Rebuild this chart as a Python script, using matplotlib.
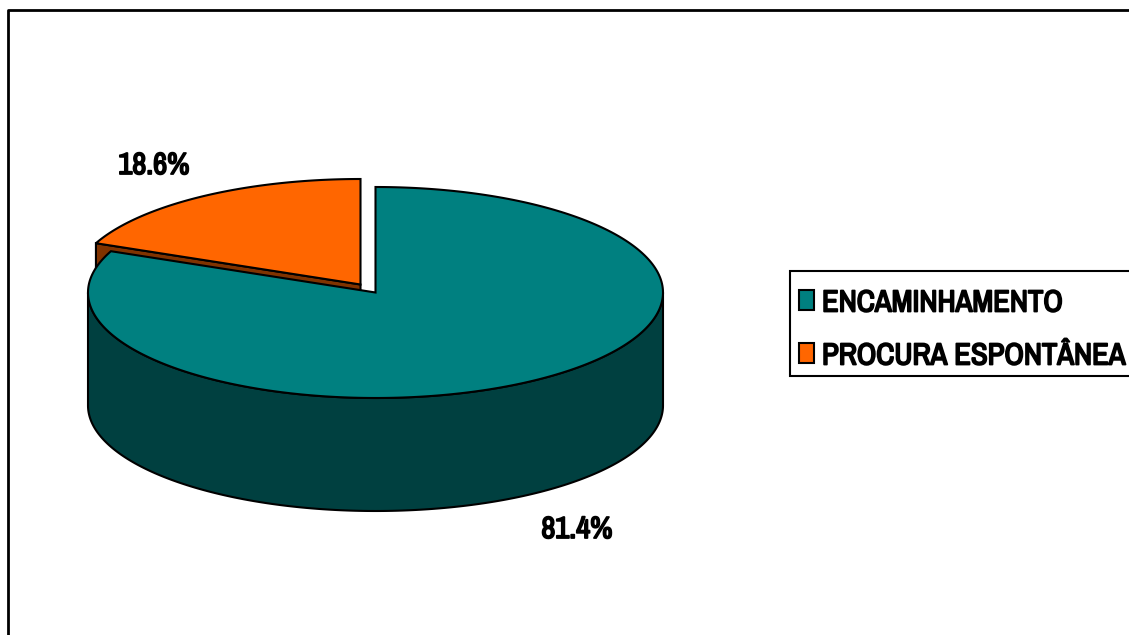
import numpy as np
import matplotlib
matplotlib.use("Agg")
import matplotlib.pyplot as plt
import matplotlib.patheffects as pe
from matplotlib.patches import Polygon, Rectangle

labels = ["ENCAMINHAMENTO", "PROCURA ESPONTÂNEA"]
values = [81.4, 18.6]
top_colors = ["#008080", "#FF6600"]
side_colors = ["#004040", "#803300"]

plt.rcParams['font.family'] = ['Archivo Narrow', 'Liberation Sans', 'DejaVu Sans']

# ellipse of the teal slice, in pixels
cx, cy = 375.5, 292.5
rx, ry = 287.5, 105.5
depth = 113
# how far the orange slice is pulled out
dx, dy = -15, -8
lw = 1.5
font_size = 22
# the narrow font only comes in regular weight, thicken it with a stroke
heavy = [pe.withStroke(linewidth=1.3, foreground="black")]


def rim(a0, a1, ox=0, oy=0):
    t = np.linspace(a0, a1, 300)
    return np.column_stack((cx + ox + rx * np.sin(t), cy + oy - ry * np.cos(t)))


fig = plt.figure(figsize=(11.29, 6.35), dpi=100)
ax = fig.add_axes([0, 0, 1, 1])
ax.set_xlim(0, 1129)
ax.set_ylim(635, 0)
ax.axis("off")

# outer frame, cut by the right and bottom of the image
ax.plot([8, 8, 1135], [640, 10, 10], color="black", lw=2, solid_capstyle="butt")

split = 2 * np.pi * values[0] / sum(values)

# orange slice: side wall first, teal covers most of it
tip = np.array([cx + dx + rx * np.sin(split), cy + dy - ry * np.cos(split)])
apex = np.array([cx + dx, cy + dy])
wall = [tip, apex, apex + [0, depth], tip + [0, depth]]
ax.add_patch(Polygon(wall, closed=True, fc=side_colors[1], ec="black", lw=lw, zorder=2))
orange_top = np.vstack(([apex], rim(split, 2 * np.pi, dx, dy)))
ax.add_patch(Polygon(orange_top, closed=True, fc=top_colors[1], ec="black", lw=lw,
                     joinstyle="miter", zorder=3))

# teal slice: front wall, then top
front = rim(np.pi / 2, 3 * np.pi / 2)
body = np.vstack((front, (front + [0, depth])[::-1]))
ax.add_patch(Polygon(body, closed=True, fc=side_colors[0], ec="black", lw=lw, zorder=4))
teal_top = np.vstack(([[cx, cy]], rim(0, split)))
ax.add_patch(Polygon(teal_top, closed=True, fc=top_colors[0], ec="black", lw=lw,
                     joinstyle="miter", zorder=5))

# percent labels
ax.text(154, 165, f"{values[1]:.1f}%", fontsize=font_size, ha="center", va="center", zorder=6, path_effects=heavy)
ax.text(577, 529, f"{values[0]:.1f}%", fontsize=font_size, ha="center", va="center", zorder=6, path_effects=heavy)

# legend box runs off the right side
ax.add_patch(Rectangle((790, 270.5), 400, 105.5, fc="white", ec="black", lw=lw, zorder=6))
for i, (name, col) in enumerate(zip(labels, top_colors)):
    y = 300 + i * 53
    ax.add_patch(Rectangle((799, y - 10), 15, 20, fc=col, ec="black", lw=lw, zorder=7))
    ax.text(822, y, name, fontsize=font_size, ha="left", va="center_baseline", zorder=7, path_effects=heavy)

fig.savefig("out.png", dpi=100)
